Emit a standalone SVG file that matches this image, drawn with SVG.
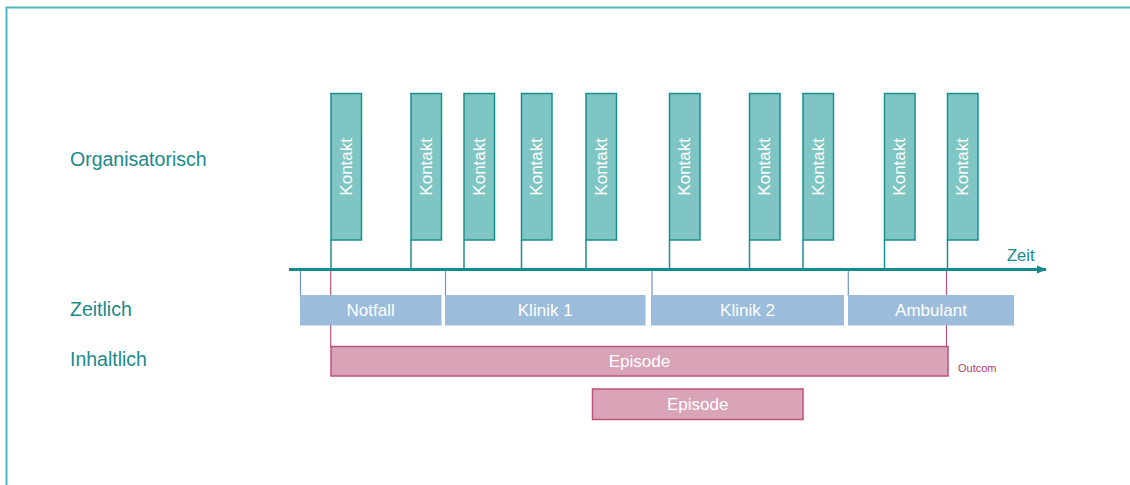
<svg xmlns="http://www.w3.org/2000/svg" width="1130" height="485" viewBox="0 0 1130 485">
  <style>
    .frame { fill: none; stroke: #4fb8b8; stroke-width: 2; }
    .lbl { font-family: "Liberation Sans", Arial, sans-serif; font-size: 19.5px; fill: #1a8a8a; }
    .contact rect { fill: #7fc5c3; stroke: #1b8e8e; stroke-width: 1.5; }
    .contact text, .phase text, .episode text { font-family: "Liberation Sans", Arial, sans-serif; fill: #ffffff; text-anchor: middle; dominant-baseline: central; }
    .contact text { font-size: 17px; }
    .phase rect { fill: #9bbcdb; }
    .phase text { font-size: 17px; }
    .episode rect { fill: #d9a3b8; stroke: #c0507c; stroke-width: 1.5; }
    .episode text { font-size: 17px; }
    .tick-c { stroke: #1b8e8e; stroke-width: 1.5; }
    .tick-b { stroke: #6c93c8; stroke-width: 1.2; }
    .tick-p { stroke: #c0507c; stroke-width: 1.2; }
  </style>
  <defs>
    <marker id="arrow" markerWidth="12" markerHeight="12" refX="9" refY="6" orient="auto" markerUnits="userSpaceOnUse">
      <path d="M0,2 L10,6 L0,10 Z" fill="#168a8a"/>
    </marker>
  </defs>

  <!-- outer frame (top and left edges) -->
  <path class="frame" d="M6.5,485 V7.5 H1130"/>

  <!-- row labels -->
  <g id="row-labels">
    <text class="lbl" x="70" y="166">Organisatorisch</text>
    <text class="lbl" x="70" y="316">Zeitlich</text>
    <text class="lbl" x="70" y="366">Inhaltlich</text>
  </g>

  <!-- connectors: ticks from axis -->
  <g id="connectors">
    <line class="tick-p" x1="330.7" y1="268" x2="330.7" y2="347"/>
    <line class="tick-p" x1="946.5" y1="270" x2="946.5" y2="347"/>
    <line class="tick-b" x1="300.5" y1="270" x2="300.5" y2="310"/>
    <line class="tick-b" x1="445.5" y1="270" x2="445.5" y2="296"/>
    <line class="tick-b" x1="652" y1="270" x2="652" y2="296"/>
    <line class="tick-b" x1="848.3" y1="270" x2="848.3" y2="296"/>
    <line class="tick-c" x1="331" y1="240" x2="331" y2="269"/>
    <line class="tick-c" x1="411" y1="240" x2="411" y2="269"/>
    <line class="tick-c" x1="464" y1="240" x2="464" y2="269"/>
    <line class="tick-c" x1="521.5" y1="240" x2="521.5" y2="269"/>
    <line class="tick-c" x1="586" y1="240" x2="586" y2="269"/>
    <line class="tick-c" x1="669.5" y1="240" x2="669.5" y2="269"/>
    <line class="tick-c" x1="749.5" y1="240" x2="749.5" y2="269"/>
    <line class="tick-c" x1="803" y1="240" x2="803" y2="269"/>
    <line class="tick-c" x1="884.5" y1="240" x2="884.5" y2="269"/>
    <line class="tick-c" x1="947.5" y1="240" x2="947.5" y2="269"/>
    <!-- time axis -->
    <line x1="289" y1="269.5" x2="1046" y2="269.5" stroke="#168a8a" stroke-width="3" marker-end="url(#arrow)"/>
  </g>
  <text x="1007" y="261" font-family="Liberation Sans, Arial, sans-serif" font-size="16.5" fill="#168a8a">Zeit</text>

  <!-- contacts -->
  <g id="contact-1" class="contact"><rect x="331" y="93.5" width="30.5" height="146.5"/><text transform="translate(346.2,166.8) rotate(-90)">Kontakt</text></g>
  <g id="contact-2" class="contact"><rect x="411" y="93.5" width="30.5" height="146.5"/><text transform="translate(426.2,166.8) rotate(-90)">Kontakt</text></g>
  <g id="contact-3" class="contact"><rect x="464" y="93.5" width="30.5" height="146.5"/><text transform="translate(479.2,166.8) rotate(-90)">Kontakt</text></g>
  <g id="contact-4" class="contact"><rect x="521.5" y="93.5" width="30.5" height="146.5"/><text transform="translate(536.7,166.8) rotate(-90)">Kontakt</text></g>
  <g id="contact-5" class="contact"><rect x="586" y="93.5" width="30.5" height="146.5"/><text transform="translate(601.2,166.8) rotate(-90)">Kontakt</text></g>
  <g id="contact-6" class="contact"><rect x="669.5" y="93.5" width="30.5" height="146.5"/><text transform="translate(684.7,166.8) rotate(-90)">Kontakt</text></g>
  <g id="contact-7" class="contact"><rect x="749.5" y="93.5" width="30.5" height="146.5"/><text transform="translate(764.7,166.8) rotate(-90)">Kontakt</text></g>
  <g id="contact-8" class="contact"><rect x="803" y="93.5" width="30.5" height="146.5"/><text transform="translate(818.2,166.8) rotate(-90)">Kontakt</text></g>
  <g id="contact-9" class="contact"><rect x="884.5" y="93.5" width="30.5" height="146.5"/><text transform="translate(899.7,166.8) rotate(-90)">Kontakt</text></g>
  <g id="contact-10" class="contact"><rect x="947.5" y="93.5" width="30.5" height="146.5"/><text transform="translate(962.7,166.8) rotate(-90)">Kontakt</text></g>

  <!-- phases -->
  <g id="phase-notfall" class="phase"><rect x="300" y="295" width="141.5" height="30.5"/><text x="370.7" y="310.5">Notfall</text></g>
  <g id="phase-klinik1" class="phase"><rect x="445" y="295" width="200.5" height="30.5"/><text x="545.2" y="310.5">Klinik 1</text></g>
  <g id="phase-klinik2" class="phase"><rect x="651" y="295" width="193" height="30.5"/><text x="747.5" y="310.5">Klinik 2</text></g>
  <g id="phase-ambulant" class="phase"><rect x="848" y="295" width="166" height="30.5"/><text x="931" y="310.5">Ambulant</text></g>

  <!-- episodes -->
  <g id="episode-1" class="episode"><rect x="331" y="346.5" width="617" height="29.5"/><text x="639.5" y="361.3">Episode</text></g>
  <g id="episode-2" class="episode"><rect x="592.5" y="389" width="210.5" height="30.5"/><text x="697.7" y="404.3">Episode</text></g>

  <text id="outcome" x="958" y="372" font-family="Liberation Sans, Arial, sans-serif" font-size="11" fill="#b03a68">Outcom</text>
</svg>
